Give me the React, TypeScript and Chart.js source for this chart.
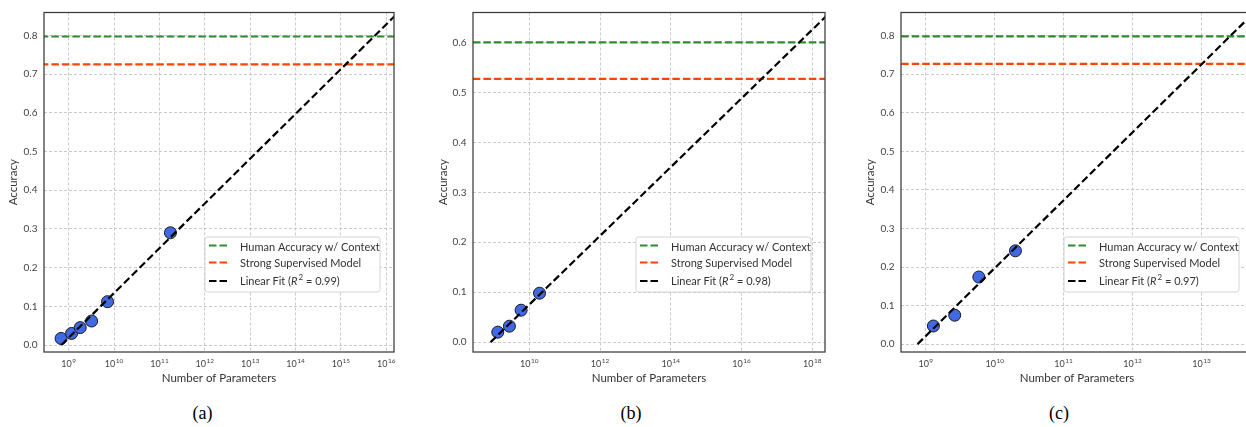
import React, { useEffect, useRef } from "react";
import { Chart, registerables } from "chart.js";

Chart.register(...registerables);

// ---------- data ----------
const paramsA = [6.8e8, 1.16e9, 1.8e9, 3.2e9, 7.2e9, 1.75e11];
const accA = [0.017, 0.03, 0.045, 0.062, 0.112, 0.29];
const fitXA = [6.9e8, 1.6e16];
const fitYA = [0.0, 0.852];
const humanA = 0.797;
const strongA = 0.725;
const r2A = "0.99";
const xTicksA = [1e9, 1e10, 1e11, 1e12, 1e13, 1e14, 1e15, 1e16];
const xRangeA = [2.86e8, 1.48e16];
const yRangeA = [-0.018, 0.859];
const yTicksA = [0, 0.1, 0.2, 0.3, 0.4, 0.5, 0.6, 0.7, 0.8];

const paramsB = [1.29e9, 2.75e9, 5.89e9, 1.95e10];
const accB = [0.02, 0.032, 0.064, 0.098];
const fitXB = [8.07e8, 2.5e18];
const fitYB = [0.0, 0.653];
const humanB = 0.6;
const strongB = 0.527;
const r2B = "0.98";
const xTicksB = [1e10, 1e12, 1e14, 1e16, 1e18];
const xRangeB = [2.57e8, 2.29e18];
const yRangeB = [-0.0197, 0.66];
const yTicksB = [0, 0.1, 0.2, 0.3, 0.4, 0.5, 0.6];

const paramsC = [1.29e9, 2.63e9, 5.89e9, 2.0e10];
const accC = [0.047, 0.075, 0.174, 0.242];
const fitXC = [7.59e8, 7.08e13];
const fitYC = [0.0, 0.875];
const humanC = 0.798;
const strongC = 0.727;
const r2C = "0.97";
const xTicksC = [1e9, 1e10, 1e11, 1e12, 1e13];
const xRangeC = [4.37e8, 5.6e13];
const yRangeC = [-0.0204, 0.86];
const yTicksC = [0, 0.1, 0.2, 0.3, 0.4, 0.5, 0.6, 0.7, 0.8];

const legendLabels = ["Human Accuracy w/ Context", "Strong Supervised Model", "Linear Fit"];
const captions = ["(a)", "(b)", "(c)"];
const xTitle = "Number of Parameters";
const yTitle = "Accuracy";

// ---------- style ----------
const GREEN = "#2e8b2e";
const ORANGE = "#ff4500";
const BLACK = "#000000";
const POINT = "#4169e1";
const FONT = "Lato";
const TICK_COLOR = "#444";
const GRID_COLOR = "#bebebe";

type Panel = {
  params: number[]; acc: number[]; fitX: number[]; fitY: number[];
  human: number; strong: number; r2: string; xTicks: number[];
  xRange: number[]; yRange: number[]; yTicks: number[];
  left: number; top: number; plotW: number; titlePad: number;
};

const panels: Panel[] = [
  { params: paramsA, acc: accA, fitX: fitXA, fitY: fitYA, human: humanA, strong: strongA, r2: r2A,
    xTicks: xTicksA, xRange: xRangeA, yRange: yRangeA, yTicks: yTicksA, left: 0, top: 9, plotW: 353, titlePad: 6 },
  { params: paramsB, acc: accB, fitX: fitXB, fitY: fitYB, human: humanB, strong: strongB, r2: r2B,
    xTicks: xTicksB, xRange: xRangeB, yRange: yRangeB, yTicks: yTicksB, left: 429, top: 6, plotW: 355, titlePad: 7 },
  { params: paramsC, acc: accC, fitX: fitXC, fitY: fitYC, human: humanC, strong: strongC, r2: r2C,
    xTicks: xTicksC, xRange: xRangeC, yRange: yRangeC, yTicks: yTicksC, left: 857, top: 7, plotW: 355, titlePad: 6.5 },
];
const captionX = [202.5, 631, 1059];

const Y_AXIS_W = 44;
const CANVAS_H = 395;
const PLOT_BOTTOM = 352;
const RIGHT_PAD = 4;

const makePlugin = (p: Panel) => ({
  id: "frameLegend",
  afterDraw(chart: any) {
    const { ctx, chartArea } = chart;
    const { left, right, top, bottom } = chartArea;
    ctx.save();
    // frame
    ctx.strokeStyle = "#3a3a3a";
    ctx.lineWidth = 1.25;
    ctx.setLineDash([]);
    ctx.strokeRect(left, top, right - left, bottom - top);

    // x tick labels: 10 with raised exponent
    const xs = chart.scales.x;
    ctx.fillStyle = TICK_COLOR;
    ctx.textBaseline = "alphabetic";
    ctx.textAlign = "left";
    for (const t of xs.ticks) {
      const px = xs.getPixelForValue(t.value);
      const e = String(Math.round(Math.log10(t.value)));
      ctx.font = `9px ${FONT}`;
      const wb = ctx.measureText("10").width;
      ctx.font = `6.5px ${FONT}`;
      const we = ctx.measureText(e).width;
      const x0 = px - (wb + we + 0.5) / 2;
      ctx.font = `9px ${FONT}`;
      ctx.fillText("10", x0, bottom + 14.5);
      ctx.font = `6.5px ${FONT}`;
      ctx.fillText(e, x0 + wb + 0.5, bottom + 10.5);
    }

    // legend
    const w = 175, h = 55;
    const bx = right - 14 - w;
    const by = bottom - 60 - h;
    ctx.beginPath();
    const r = 2.5;
    ctx.moveTo(bx + r, by);
    ctx.lineTo(bx + w - r, by);
    ctx.quadraticCurveTo(bx + w, by, bx + w, by + r);
    ctx.lineTo(bx + w, by + h - r);
    ctx.quadraticCurveTo(bx + w, by + h, bx + w - r, by + h);
    ctx.lineTo(bx + r, by + h);
    ctx.quadraticCurveTo(bx, by + h, bx, by + h - r);
    ctx.lineTo(bx, by + r);
    ctx.quadraticCurveTo(bx, by, bx + r, by);
    ctx.closePath();
    ctx.fillStyle = "rgba(255,255,255,0.92)";
    ctx.fill();
    ctx.strokeStyle = "#d4d4d4";
    ctx.lineWidth = 1;
    ctx.stroke();

    const colors = [GREEN, ORANGE, BLACK];
    const lineY = [8.5, 25.5, 44];
    const baseY = [13.8, 29.8, 48];
    for (let i = 0; i < 3; i++) {
      ctx.strokeStyle = colors[i];
      ctx.lineWidth = 2.2;
      ctx.setLineDash([7.5, 3]);
      ctx.beginPath();
      ctx.moveTo(bx + 4, by + lineY[i]);
      ctx.lineTo(bx + 25, by + lineY[i]);
      ctx.stroke();
    }
    ctx.setLineDash([]);
    ctx.fillStyle = "#333";
    ctx.textBaseline = "alphabetic";
    ctx.textAlign = "left";
    ctx.font = `11px ${FONT}`;
    const tx = bx + 35;
    ctx.fillText(legendLabels[0], tx, by + baseY[0]);
    ctx.fillText(legendLabels[1], tx, by + baseY[1]);
    let x = tx;
    const s1 = legendLabels[2] + " (";
    ctx.fillText(s1, x, by + baseY[2]);
    x += ctx.measureText(s1).width;
    ctx.font = `italic 11px ${FONT}`;
    ctx.fillText("R", x, by + baseY[2]);
    x += ctx.measureText("R").width + 1;
    ctx.font = `8px ${FONT}`;
    ctx.fillText("2", x, by + baseY[2] - 5);
    x += ctx.measureText("2").width;
    ctx.font = `11px ${FONT}`;
    ctx.fillText(" = " + p.r2 + ")", x, by + baseY[2]);
    ctx.restore();
  },
});

function PanelChart({ p }: { p: Panel }) {
  const ref = useRef<HTMLCanvasElement>(null);
  useEffect(() => {
    if (!ref.current) return;
    const pts = p.params.map((v, i) => ({ x: v, y: p.acc[i] }));
    const fit = p.fitX.map((v, i) => ({ x: v, y: p.fitY[i] }));
    const hLine = (y: number) => [{ x: p.xRange[0] * 0.5, y }, { x: p.xRange[1] * 2, y }];
    const chart = new Chart(ref.current, {
      type: "scatter",
      data: {
        datasets: [
          { label: "Human", data: hLine(p.human), showLine: true, borderColor: GREEN, borderWidth: 2.2,
            borderDash: [7.5, 3], pointRadius: 0, order: 3 } as any,
          { label: "Strong", data: hLine(p.strong), showLine: true, borderColor: ORANGE, borderWidth: 2.2,
            borderDash: [7.5, 3], pointRadius: 0, order: 2 } as any,
          { label: "Models", data: pts, backgroundColor: POINT, borderColor: "#1a1a1a", borderWidth: 1,
            pointRadius: 6, pointHoverRadius: 6, order: 1 } as any,
          { label: "Fit", data: fit, showLine: true, borderColor: BLACK, borderWidth: 2.2,
            borderDash: [7.5, 3.5], pointRadius: 0, order: 0 } as any,
        ],
      },
      options: {
        animation: false,
        responsive: false,
        maintainAspectRatio: false,
        events: [],
        layout: { padding: { top: p.top, right: RIGHT_PAD, left: 0, bottom: 0 } },
        plugins: { legend: { display: false }, tooltip: { enabled: false } },
        scales: {
          x: {
            type: "logarithmic",
            min: p.xRange[0],
            max: p.xRange[1],
            afterBuildTicks: (s: any) => { s.ticks = p.xTicks.map((v) => ({ value: v })); },
            afterFit: (s: any) => { s.height = CANVAS_H - PLOT_BOTTOM; },
            ticks: { display: false },
            grid: { color: GRID_COLOR, lineWidth: 0.8, drawTicks: false },
            border: { display: false, dash: [3, 2] },
            title: { display: true, text: xTitle, font: { family: FONT, size: 11.5 }, color: "#333",
              padding: { top: 0, bottom: 10 } },
          },
          y: {
            type: "linear",
            min: p.yRange[0],
            max: p.yRange[1],
            afterBuildTicks: (s: any) => { s.ticks = p.yTicks.map((v) => ({ value: v })); },
            afterFit: (s: any) => { s.width = Y_AXIS_W; },
            ticks: {
              callback: (v: any) => Number(v).toFixed(1),
              font: { family: FONT, size: 10 }, color: TICK_COLOR, padding: 6.5,
            },
            grid: { color: GRID_COLOR, lineWidth: 0.8, drawTicks: false },
            border: { display: false, dash: [3, 2] },
            title: { display: true, text: yTitle, font: { family: FONT, size: 11.5 }, color: "#333",
              padding: { top: p.titlePad, bottom: 0 } },
          },
        },
      },
      plugins: [makePlugin(p)],
    } as any);
    return () => chart.destroy();
  }, [p]);
  const w = Y_AXIS_W + p.plotW + RIGHT_PAD;
  return (
    <canvas
      ref={ref}
      width={w}
      height={CANVAS_H}
      style={{ position: "absolute", left: p.left, top: 0, width: w, height: CANVAS_H }}
    />
  );
}

export default function App() {
  return (
    <div style={{ position: "absolute", left: 0, top: 0, width: 1246, height: 427, overflow: "hidden", background: "#fff" }}>
      {panels.map((p, i) => <PanelChart key={i} p={p} />)}
      {captions.map((c, i) => (
        <div key={c} style={{ position: "absolute", left: captionX[i] - 30, width: 60, top: 401, textAlign: "center",
          fontFamily: "'Liberation Serif', serif", fontSize: 18, color: "#000", lineHeight: "24px" }}>{c}</div>
      ))}
    </div>
  );
}
